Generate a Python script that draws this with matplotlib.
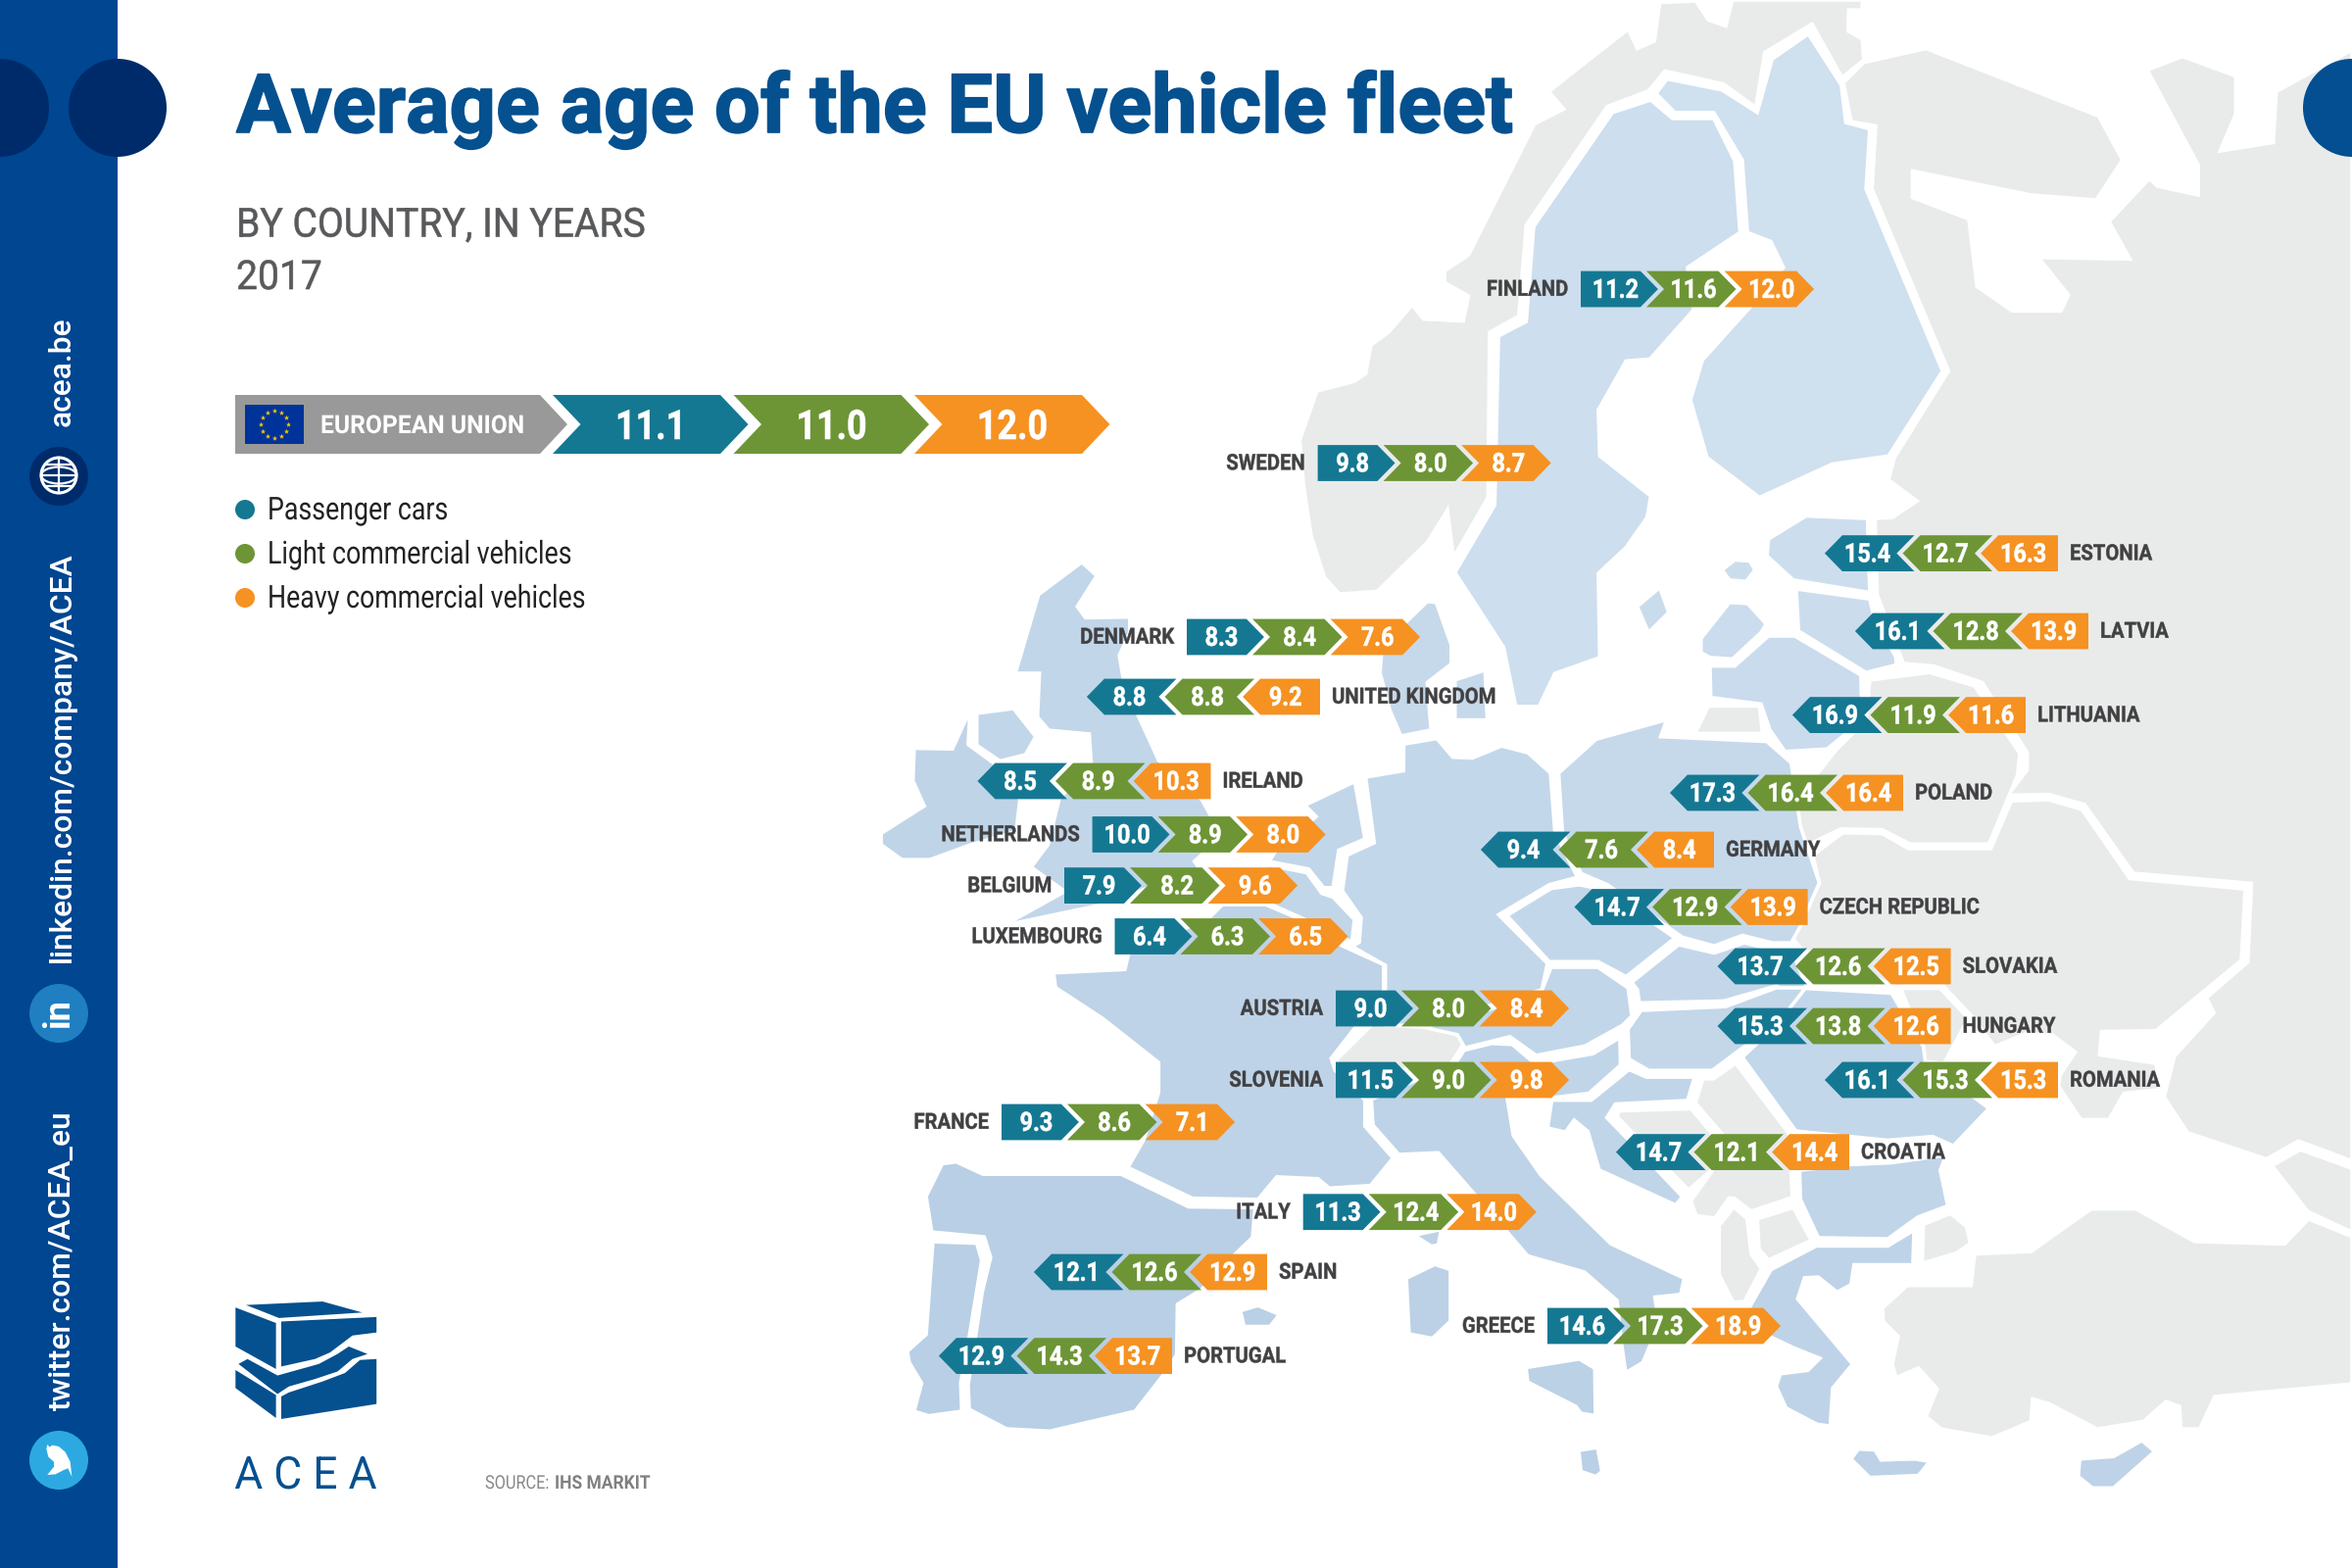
import numpy as np
import matplotlib
matplotlib.use('Agg')
import matplotlib.pyplot as plt
from matplotlib.patches import Polygon, Circle, Ellipse, Rectangle
from matplotlib.patheffects import AbstractPathEffect
from matplotlib.transforms import Affine2D

# values: passenger cars, light commercial, heavy commercial
countries = ['FINLAND', 'SWEDEN', 'ESTONIA', 'LATVIA', 'DENMARK', 'UNITED KINGDOM', 'LITHUANIA', 'IRELAND',
             'POLAND', 'NETHERLANDS', 'GERMANY', 'BELGIUM', 'CZECH REPUBLIC', 'LUXEMBOURG', 'SLOVAKIA',
             'AUSTRIA', 'HUNGARY', 'SLOVENIA', 'ROMANIA', 'FRANCE', 'CROATIA', 'ITALY', 'SPAIN', 'GREECE',
             'PORTUGAL']
passenger = [11.2, 9.8, 15.4, 16.1, 8.3, 8.8, 16.9, 8.5, 17.3, 10.0, 9.4, 7.9, 14.7, 6.4, 13.7, 9.0, 15.3,
             11.5, 16.1, 9.3, 14.7, 11.3, 12.1, 14.6, 12.9]
light = [11.6, 8.0, 12.7, 12.8, 8.4, 8.8, 11.9, 8.9, 16.4, 8.9, 7.6, 8.2, 12.9, 6.3, 12.6, 8.0, 13.8, 9.0,
         15.3, 8.6, 12.1, 12.4, 12.6, 17.3, 14.3]
heavy = [12.0, 8.7, 16.3, 13.9, 7.6, 9.2, 11.6, 10.3, 16.4, 8.0, 8.4, 9.6, 13.9, 6.5, 12.5, 8.4, 12.6, 9.8,
         15.3, 7.1, 14.4, 14.0, 12.9, 18.9, 13.7]
eu_values = [11.1, 11.0, 12.0]
legend_labels = ['Passenger cars', 'Light commercial vehicles', 'Heavy commercial vehicles']

# where each row sits on the map: flat end x, centre y, direction of the arrows
row_x = [1613, 1344.6, 2100, 2131, 1211, 1347, 2067, 1235.5, 1942, 1114.6, 1749, 1086, 1844.6, 1137.5, 1990.6,
         1363, 1990.6, 1363, 2100, 1022, 1887, 1329.7, 1293, 1579, 1196]
row_y = [295, 472.5, 564.6, 644, 650, 711, 729.6, 797, 809, 851.5, 867, 903.6, 925.5, 955.5, 986, 1029, 1047,
         1102, 1102, 1145, 1175.6, 1236.7, 1298, 1353, 1383.6]
row_dir = ['R', 'R', 'L', 'L', 'R', 'L', 'L', 'L', 'L', 'R', 'L', 'R', 'L', 'R', 'L', 'R', 'L', 'R', 'L', 'R',
           'L', 'R', 'L', 'R', 'L']

TEAL = '#157892'
GREEN = '#6D9536'
ORANGE = '#F59222'
GREY = '#999999'
NAVY = '#004691'
DARK = '#002B6B'
TITLE = '#05508F'
TXT = '#414042'
LAND = '#E9EBEB'


# the zoomed crops I traced the map from, back to picture pixels
def crop(ox, oy, w):
    return lambda pts: [(ox + x * w / 1568, oy + y * w / 1568) for x, y in pts]


def quad(ox, oy):
    return lambda pts: [(ox + x * 1200 / 1568, oy + y * 800 / 1568) for x, y in pts]


q2, q4 = quad(1200, 0), quad(1200, 800)
c5, c6 = crop(880, 550, 600), crop(880, 1000, 600)
c7, c8, c9 = crop(1380, 700, 600), crop(1800, 800, 600), crop(1380, 1050, 550)

non_eu = [
    # norway
    q2([(497, 183), (603, 58), (615, 97), (638, 82), (645, 5), (693, 2), (710, 40), (733, 52), (742, 0), (915, 0),
        (915, 20), (897, 20), (896, 62), (915, 78), (917, 120), (888, 155), (848, 48), (785, 105), (773, 215),
        (730, 168), (652, 142), (630, 182), (575, 213), (467, 450), (457, 632), (418, 665), (416, 995), (370, 1115),
        (362, 1020), (335, 1085), (268, 1183), (218, 1188), (198, 1155), (180, 1070), (170, 970), (165, 880),
        (188, 782), (237, 763), (253, 747), (260, 690), (283, 665), (315, 610), (330, 638), (383, 642), (390, 592),
        (358, 565), (358, 542), (390, 510), (478, 248), (517, 218)]),
    # russia
    q2([(890, 165), (917, 125), (1000, 97), (1230, 232), (1262, 320), (1227, 400), (1140, 390), (982, 342),
        (982, 395), (1057, 438), (1068, 573), (1115, 622), (1180, 622), (1190, 590), (1150, 515), (1272, 518),
        (1244, 443), (1298, 357), (1308, 372), (1363, 390), (1363, 330), (1295, 140), (1342, 113), (1413, 152),
        (1413, 228), (1392, 302), (1463, 285), (1467, 183), (1568, 100)])
    + c8([(1568, 1005), (1425, 952), (1340, 1000), (1130, 930), (1067, 835), (1095, 725), (1200, 610), (1180, 570),
          (1290, 475), (1300, 265), (985, 238), (855, 55), (760, 28), (650, 30)])
    + q2([(1135, 1540), (1135, 1505), (1075, 1365), (1010, 1332), (970, 1327), (935, 1190), (932, 1037), (955, 1035),
          (988, 1002), (950, 960), (958, 915), (1030, 742), (928, 378), (933, 252), (900, 243)]),
    # belarus
    q2([(925, 1360), (1005, 1345), (1065, 1372), (1125, 1507), (1122, 1550)])
    + c8([(600, 160), (390, 160), (315, 122), (205, 120), (100, 170), (75, 60)])
    + q2([(880, 1500), (920, 1440)]),
    # ukraine
    c8([(130, 190), (210, 130), (315, 132), (385, 172), (605, 172), (660, 45), (760, 42), (848, 68), (975, 252),
        (1283, 280), (1273, 470), (1045, 658), (900, 660), (895, 722), (1045, 745), (1055, 815), (960, 825),
        (920, 895), (845, 895), (785, 805), (790, 775), (830, 715), (770, 670), (700, 665), (615, 700), (555, 620),
        (470, 530), (355, 540), (100, 440), (75, 410), (148, 265)]),
    # moldova bit
    c8([(365, 545), (470, 545), (545, 625), (480, 745), (430, 740), (425, 700)]),
    # caucasus
    c8([(1355, 1018), (1430, 975), (1568, 1025), (1568, 1195), (1450, 1140)]),
    # turkey
    q4([(942, 1048), (975, 1003), (1060, 1003), (1065, 940), (1140, 935), (1220, 850), (1280, 850), (1358, 915),
        (1478, 920), (1510, 870), (1568, 905), (1568, 1200), (1385, 1225), (1365, 1290), (1340, 1290), (1338, 1245),
        (1320, 1235), (1290, 1275), (1228, 1290), (1165, 1240), (1142, 1230), (1140, 1275), (1088, 1308),
        (1020, 1290), (1000, 1265), (1015, 1210), (990, 1168), (960, 1187), (955, 1160), (963, 1105), (943, 1075)]),
    c8([(425, 1175), (497, 1145), (540, 1180), (550, 1225), (515, 1250), (422, 1278)]),
    # balkans
    c9([(775, 238), (985, 232), (1060, 320), (1045, 410), (978, 468), (770, 255)]),
    c9([(1020, 145), (1050, 145), (1115, 100), (1270, 305), (1280, 490), (1160, 530), (1110, 492), (1095, 492),
        (1055, 550), (1000, 543), (985, 500), (1045, 415), (1075, 305), (998, 215)]),
    c9([(1178, 552), (1283, 520), (1335, 615), (1210, 672), (1183, 640)]),
    c9([(1110, 518), (1148, 552), (1160, 655), (1190, 697), (1140, 793), (1108, 795), (1067, 715), (1067, 572)]),
    # switzerland
    q4([(215, 550), (262, 480), (370, 490), (385, 515), (362, 570), (215, 570)]),
    # kaliningrad
    q2([(710, 1412), (778, 1412), (782, 1467), (692, 1467)]),
]

eu = [
    # finland
    q2([(843, 68), (887, 170), (893, 245), (925, 258), (920, 378), (1022, 742), (950, 912), (875, 928), (778, 995),
        (708, 915), (686, 800), (702, 720), (765, 615), (810, 535), (793, 483), (762, 465), (755, 320), (717, 225),
        (665, 225), (640, 187), (655, 158), (728, 180), (775, 225), (795, 118)]),
    # sweden
    q2([(633, 200), (662, 237), (717, 237), (745, 322), (752, 465), (682, 535), (690, 620), (632, 718), (600, 722),
        (563, 820), (565, 912), (633, 992), (628, 1035), (600, 1095), (563, 1147), (565, 1315), (505, 1347),
        (484, 1413), (453, 1413), (437, 1295), (372, 1145), (425, 1010), (430, 672), (467, 643), (477, 453),
        (582, 225)]),
    q2([(645, 1175), (657, 1225), (630, 1265), (615, 1213)]),
    # estonia, latvia, lithuania
    q2([(790, 1078), (840, 1032), (922, 1037), (925, 1185), (823, 1160), (788, 1112)]),
    q2([(728, 1140), (745, 1120), (765, 1122), (772, 1140), (760, 1163), (738, 1160)]),
    q2([(827, 1178), (925, 1198), (930, 1230), (960, 1315), (960, 1330), (920, 1345), (830, 1262)]),
    q2([(738, 1205), (762, 1207), (787, 1248), (780, 1265), (742, 1318), (712, 1315), (700, 1305), (700, 1277)]),
    q2([(712, 1332), (745, 1332), (790, 1272), (825, 1272), (913, 1350), (915, 1440), (895, 1465), (868, 1498),
        (812, 1503), (792, 1460), (780, 1408), (713, 1395)]),
    # denmark
    q2([(335, 1203), (347, 1205), (367, 1290), (367, 1328), (335, 1365), (340, 1460), (300, 1472), (285, 1420),
        (272, 1345), (275, 1290)]),
    q2([(372, 1360), (412, 1340), (415, 1440), (372, 1440)]),
    # uk, ireland
    c5([(585, 62), (625, 98), (573, 180), (595, 210), (713, 208), (713, 250), (685, 310), (695, 370), (735, 470),
        (790, 590), (905, 695), (930, 740), (960, 790), (885, 860), (900, 880), (640, 975), (378, 1030), (540, 940),
        (450, 875), (495, 815), (525, 693), (610, 597), (605, 520), (497, 510), (467, 475), (472, 358), (408, 358),
        (470, 148)]),
    c5([(305, 465), (403, 452), (462, 527), (435, 575), (367, 592), (305, 550)]),
    c5([(287, 457), (282, 548), (360, 605), (420, 695), (410, 780), (290, 815), (180, 855), (105, 855), (50, 815),
        (50, 785), (165, 712), (135, 645), (138, 558), (240, 560)]),
    # netherlands, belgium
    c5([(1180, 710), (1313, 647), (1340, 800), (1270, 830), (1255, 930), (1230, 930), (1190, 880), (1085, 860),
        (1100, 835), (1210, 740)]),
    c5([(1085, 870), (1185, 890), (1225, 945), (1255, 955), (1312, 1015), (1305, 1075), (1170, 1010), (1080, 970),
        (960, 905)]),
    # france
    c5([(510, 1157), (700, 1148), (710, 1105), (925, 1010), (960, 975), (1075, 975), (1170, 1015), (1280, 1085),
        (1390, 1135), (1390, 1205), (1250, 1385)])
    + c6([(1260, 240), (1340, 320), (1340, 390), (1415, 475), (1355, 548), (1245, 555), (1215, 530), (1105, 525),
          (1055, 585), (880, 582), (708, 500), (750, 427), (790, 300), (790, 220), (640, 102), (515, 20)]),
    # germany
    c7([(137, 155), (225, 140), (268, 190), (320, 192), (398, 160), (468, 178), (528, 232), (540, 390), (600, 510),
        (525, 530), (390, 610), (520, 740), (505, 810), (190, 905), (88, 905), (88, 745), (0, 695)])
    + c5([(1325, 1075), (1330, 1010), (1280, 938), (1293, 843), (1365, 810), (1342, 635), (1443, 618)]),
    # poland
    c7([(550, 232), (650, 142), (838, 90), (822, 135), (1105, 148), (1170, 205), (1195, 375), (1245, 525), (1195, 640),
        (1170, 685), (1120, 685), (1040, 665), (965, 693), (880, 670), (680, 530), (610, 500), (560, 390)]),
    # czechia, austria, slovakia, hungary
    c7([(412, 612), (530, 540), (605, 530), (680, 545), (860, 672), (730, 775), (655, 735), (525, 735)]),
    c7([(530, 750), (655, 750), (735, 805), (745, 880), (720, 905), (620, 960), (490, 985), (420, 935), (300, 965),
        (280, 930), (190, 910), (500, 825)]),
    c7([(870, 690), (965, 712), (1045, 685), (1120, 703), (1170, 700), (1210, 800), (1190, 830), (1130, 800),
        (990, 840), (765, 845), (760, 810), (745, 790)]),
    c7([(770, 865), (995, 855), (1130, 805), (1205, 805), (1190, 840), (1130, 900), (1020, 980), (960, 1025),
        (790, 1025), (738, 995), (735, 915)]),
    # romania, bulgaria
    c8([(110, 545), (340, 558), (425, 700), (430, 740), (600, 865), (505, 965), (450, 940), (330, 950), (80, 925)])
    + c7([(1185, 1190), (1040, 990), (1130, 905)]),
    c8([(95, 1030), (230, 1015), (340, 1010), (485, 990), (470, 1030), (490, 1125), (410, 1155), (330, 1213),
        (145, 1210), (97, 1107)]),
    # italy, slovenia, croatia
    c9([(325, 62), (405, 42), (465, 45), (530, 100), (580, 120), (450, 200), (468, 310), (548, 425), (752, 625),
        (965, 725), (955, 772), (880, 780), (885, 815), (868, 915), (845, 970), (795, 1000), (783, 915), (770, 790),
        (675, 707), (510, 660), (450, 590), (355, 480), (250, 360), (135, 365), (60, 280), (55, 205), (300, 100)]),
    c9([(537, 100), (700, 72), (778, 25), (780, 105), (688, 187), (580, 200), (500, 200)]),
    c9([(805, 118), (855, 140), (995, 140), (975, 208), (765, 218), (740, 258), (815, 335), (960, 488), (940, 512),
        (718, 410), (685, 298), (645, 265), (620, 300), (568, 288), (580, 207), (695, 207)]),
    # greece
    c9([(1218, 700), (1352, 630)])
    + c8([(145, 1232), (330, 1232), (400, 1190), (397, 1282), (240, 1282), (232, 1335), (195, 1355), (145, 1315),
          (108, 1317)])
    + c9([(1295, 785), (1455, 975), (1397, 1045), (1390, 1155), (1352, 1150), (1262, 1103), (1233, 1040), (1245, 1003),
          (1325, 993), (1360, 958), (1285, 928), (1215, 895), (1155, 810)]),
    # islands
    c9([(505, 985), (660, 960), (705, 987), (707, 1125), (665, 1118), (650, 1098), (510, 1027)]),
    c9([(157, 725), (240, 685), (285, 700), (285, 850), (233, 900), (165, 887)]),
    c9([(180, 600), (258, 583), (250, 628), (230, 632)]),
    q4([(537, 1333), (562, 1327), (568, 1375), (560, 1385), (540, 1375)]),
    q4([(900, 1350), (910, 1330), (932, 1332), (940, 1352), (985, 1350), (1005, 1355), (990, 1383), (925, 1387)]),
    q4([(1205, 1350), (1250, 1345), (1288, 1313), (1305, 1335), (1250, 1408), (1222, 1408), (1203, 1385)]),
    # spain, portugal
    c6([(213, 490), (250, 485), (322, 518), (690, 518), (870, 605), (1047, 607), (1040, 687), (995, 730), (905, 825),
        (840, 865), (838, 1000), (805, 1050), (727, 1150), (500, 1203), (385, 1197), (285, 1145), (282, 1080),
        (320, 830), (342, 740), (325, 685), (185, 672), (170, 577)]),
    c6([(188, 698), (305, 702), (318, 748), (285, 950), (262, 1075), (265, 1150), (177, 1162), (138, 1150), (158, 1075),
        (125, 1020), (120, 990), (170, 945)]),
    c6([(1008, 882), (1055, 868), (1112, 892), (1087, 924), (1018, 924)]),
]


def eu_colour(poly):
    # the blue gets slightly darker towards the south west
    pts = np.array(poly)
    t = np.clip((pts[:, 1].mean() - 0.5 * pts[:, 0].mean() + 550) / 1300, 0, 1)
    top, bottom = np.array([207, 224, 239]), np.array([185, 207, 229])
    return tuple((top + (bottom - top) * t) / 255)


# no condensed font installed, so squeeze Roboto sideways when it is drawn
class Squeeze(AbstractPathEffect):
    def __init__(self, cx, sx, stroke=0):
        super().__init__()
        self.cx, self.sx, self.stroke = cx, sx, stroke

    def draw_path(self, renderer, gc, tpath, affine, rgbFace=None):
        squeeze = Affine2D().translate(-self.cx, 0).scale(self.sx, 1).translate(self.cx, 0)
        gc0 = renderer.new_gc()
        gc0.copy_properties(gc)
        if self.stroke:
            gc0.set_linewidth(self.stroke)
            gc0.set_foreground(rgbFace)
        renderer.draw_path(gc0, tpath, affine + squeeze, rgbFace)
        gc0.restore()


def label(ax, x, y, s, sx=1.0, stroke=0, **kw):
    kw.setdefault('family', 'Roboto')
    kw.setdefault('va', 'baseline')
    t = ax.text(x, y, s, **kw)
    cx = ax.transData.transform((x, y))[0]
    t.set_path_effects([Squeeze(cx, sx, stroke)])
    return t


# arrow geometry, in pixels
HALF = 18.4
DEPTH = 18
BODY = 73.5
STEP = 79.6
INSET = 12.6


def draw_row(ax, x, y, vals, direction):
    # index 0 is the segment with the flat end
    cols = [TEAL, GREEN, ORANGE]
    if direction == 'L':
        vals, cols = vals[::-1], cols[::-1]
    sign = 1 if direction == 'R' else -1
    for i, (v, col) in enumerate(zip(vals, cols)):
        back = -INSET + STEP * i
        shoulder = back + BODY
        if i == 0:
            pts = [(0, -HALF), (shoulder, -HALF), (shoulder + DEPTH, 0), (shoulder, HALF), (0, HALF)]
        else:
            pts = [(back, -HALF), (shoulder, -HALF), (shoulder + DEPTH, 0), (shoulder, HALF), (back, HALF),
                   (back + DEPTH, 0)]
        ax.add_patch(Polygon([(x + sign * px, y + py) for px, py in pts], closed=True, fc=col, ec='none', zorder=5))
        label(ax, x + sign * (back + 48), y + 8.9, f'{v:.1f}', sx=0.87, stroke=0.2, color='white', fontsize=9.7,
              fontweight='bold', ha='center', zorder=6)


fig = plt.figure(figsize=(12, 8), dpi=200)
ax = fig.add_axes([0, 0, 1, 1])
ax.set_xlim(0, 2400)
ax.set_ylim(1600, 0)
ax.axis('off')

for poly in non_eu:
    ax.add_patch(Polygon(poly, closed=True, fc=LAND, ec='white', lw=1.3, joinstyle='miter', zorder=1))
for poly in eu:
    ax.add_patch(Polygon(poly, closed=True, fc=eu_colour(poly), ec='white', lw=1.3, joinstyle='miter', zorder=2))

# country rows
for name, x, y, d, p, l, h in zip(countries, row_x, row_y, row_dir, passenger, light, heavy):
    draw_row(ax, x, y, [p, l, h], d)
    if d == 'R':
        label(ax, x - 13, y + 6.8, name, sx=0.9, stroke=0.15, color=TXT, fontsize=8.1, fontweight='bold', ha='right',
              zorder=6)
    else:
        label(ax, x + 12, y + 6.8, name, sx=0.9, stroke=0.15, color=TXT, fontsize=8.1, fontweight='bold', ha='left',
              zorder=6)

# side bar
ax.add_patch(Rectangle((0, 0), 120, 1600, fc=NAVY, ec='none', zorder=3))
ax.add_patch(Circle((0, 110), 50, fc=DARK, ec='none', zorder=4))
ax.add_patch(Circle((120, 110), 50, fc=DARK, ec='none', zorder=4))
ax.add_patch(Circle((2400, 110), 50, fc='#034F92', ec='none', zorder=4))

for text, y in [('acea.be', 435), ('linkedin.com/company/ACEA', 982), ('twitter.com/ACEA_eu', 1439)]:
    ax.text(63, y, text, color='white', fontsize=11.45, family='Roboto', fontweight='medium', rotation=90, ha='center',
            va='bottom', zorder=5)

# globe icon
ax.add_patch(Circle((60, 486), 30, fc=DARK, ec='none', zorder=4))
ax.add_patch(Circle((60, 485), 18, fc='none', ec='white', lw=1.1, zorder=5))
ax.add_patch(Ellipse((60, 485), 36, 17, fc='none', ec='white', lw=0.8, zorder=5))
ax.plot([42, 78], [485, 485], color='white', lw=0.8, zorder=5)
ax.plot([60, 60], [467, 503], color='white', lw=0.8, zorder=5)
ax.plot([47, 73], [474, 474], color='white', lw=0.8, zorder=5)
ax.plot([47, 73], [496, 496], color='white', lw=0.8, zorder=5)

# linkedin icon
ax.add_patch(Circle((60, 1034), 30, fc='#1F7FC1', ec='none', zorder=4))
ax.text(60, 1034, 'in', color='white', fontsize=13, fontweight='bold', family='Roboto', rotation=90, ha='center',
        va='center', zorder=5)

# twitter icon
ax.add_patch(Circle((60, 1490), 30, fc='#2DA9E1', ec='none', zorder=4))
bird = [(82, 85), (85, 72), (92, 80), (100, 74), (120, 78), (140, 95), (155, 125), (160, 170), (148, 145), (135, 150),
        (110, 163), (85, 165), (105, 140), (105, 125), (88, 110)]
ax.add_patch(Polygon([(20 + x / 3, 1450 + y / 3) for x, y in bird], closed=True, fc='white', ec='none', zorder=5))

# heading
label(ax, 241, 135, 'Average age of the EU vehicle fleet', sx=0.996, stroke=0.6, color=TITLE, fontsize=30,
      fontweight='bold', ha='left', zorder=6)
label(ax, 241, 241.5, 'BY COUNTRY, IN YEARS', sx=0.95, stroke=0.2, color='#58595B', fontsize=14.8, ha='left')
label(ax, 241, 295, '2017', sx=0.95, stroke=0.2, color='#58595B', fontsize=14.8, ha='left')

# EU band
ax.add_patch(Polygon([(240, 403), (551, 403), (579, 433), (551, 463), (240, 463)], closed=True, fc=GREY, ec='none'))
ax.add_patch(Rectangle((250, 413), 60, 40, fc='#003399', ec='none', zorder=3))
ang = np.linspace(0, 2 * np.pi, 12, endpoint=False)
ax.scatter(280 + 14 * np.cos(ang), 433 + 14 * np.sin(ang), s=4, marker='*', color='#FFCC00', lw=0, zorder=4)
label(ax, 327, 442, 'EUROPEAN UNION', sx=0.955, color='white', fontsize=9.3, fontweight='bold', ha='left')
for i, (v, col) in enumerate(zip(eu_values, [TEAL, GREEN, ORANGE])):
    back = 564 + 184.5 * i
    ax.add_patch(Polygon([(back, 403), (back + 171, 403), (back + 199.5, 433), (back + 171, 463), (back, 463),
                          (back + 28.5, 433)], closed=True, fc=col, ec='none'))
    label(ax, back + 100, 448, f'{v:.1f}', sx=0.86, stroke=0.2, color='white', fontsize=15, fontweight='bold',
          ha='center')

# legend
for text, y, col in zip(legend_labels, [520, 565, 610], [TEAL, GREEN, ORANGE]):
    ax.add_patch(Circle((250, y), 10, fc=col, ec='none'))
    label(ax, 273, y + 10, text, sx=0.83, color='#222222', fontsize=11.6, ha='left')

# logo
for poly in [[(328, 1042), (430, 1035), (483, 1057), (372, 1068)],
             [(314, 1047), (368, 1078), (368, 1170), (314, 1125)],
             [(375, 1075), (502, 1066), (502, 1097), (470, 1103), (440, 1137), (420, 1150), (375, 1165)],
             [(502, 1150), (480, 1152), (460, 1178), (430, 1195), (385, 1217), (375, 1225), (375, 1270), (502, 1240)],
             [(314, 1172), (368, 1222), (368, 1268), (314, 1208)],
             [(318, 1160), (330, 1150), (370, 1183), (425, 1160), (450, 1140), (465, 1125), (490, 1140), (470, 1150),
              (450, 1175), (420, 1190), (385, 1205), (370, 1220)]]:
    ax.add_patch(Polygon([(x * 1200 / 1568, 800 + y * 800 / 1568) for x, y in poly], closed=True, fc=TITLE, ec='none'))
label(ax, 312, 1519, 'A C E A', sx=0.97, color=TITLE, fontsize=16.5, ha='center')

# source
label(ax, 495, 1519, 'SOURCE:', sx=0.85, color='#888888', fontsize=6.9, ha='left')
label(ax, 566, 1519, 'IHS MARKIT', sx=0.91, color='#808080', fontsize=6.9, fontweight='bold', ha='left')

plt.savefig('out.png', dpi=200)
